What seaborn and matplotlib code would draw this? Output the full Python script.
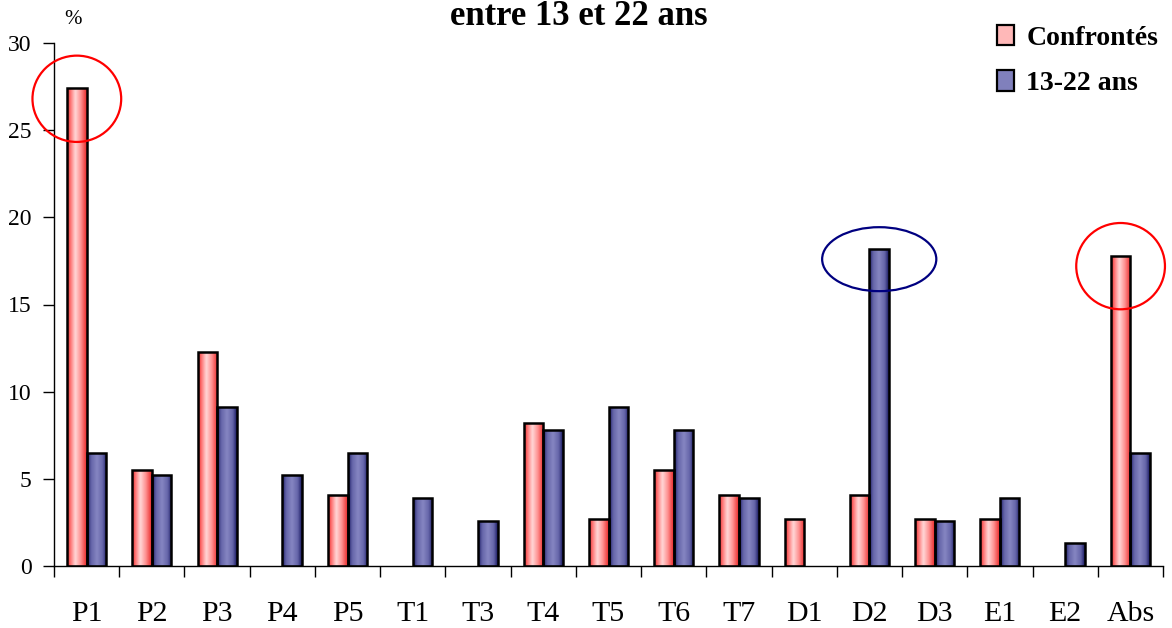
import numpy as np
import pandas as pd
import matplotlib
matplotlib.use("Agg")
import matplotlib.pyplot as plt
import seaborn as sns
from matplotlib.patches import Ellipse, Patch
from matplotlib.colors import LinearSegmentedColormap

# ---- data ----
categories = ["P1", "P2", "P3", "P4", "P5", "T1", "T3", "T4", "T5", "T6",
              "T7", "D1", "D2", "D3", "E1", "E2", "Abs"]
confrontes = [27.4, 5.5, 12.3, 0.0, 4.1, 0.0, 0.0, 8.2, 2.7, 5.5,
              4.1, 2.7, 4.1, 2.7, 2.7, 0.0, 17.8]
ans_13_22 = [6.5, 5.2, 9.1, 5.2, 6.5, 3.9, 2.6, 7.8, 9.1, 7.8,
             3.9, 0.0, 18.2, 2.6, 3.9, 1.3, 6.5]
series_names = ["Confrontés", "13-22 ans"]
title = "entre 13 et 22 ans"
yticks = [0, 5, 10, 15, 20, 25, 30]

df = pd.DataFrame({
    "cat": categories * 2,
    "val": confrontes + ans_13_22,
    "serie": [series_names[0]] * len(categories) + [series_names[1]] * len(categories),
})

sns.set_theme(style="white")
plt.rcParams["font.family"] = ["Liberation Serif", "DejaVu Serif"]
plt.rcParams["text.color"] = "black"
plt.rcParams["xtick.color"] = "black"
plt.rcParams["ytick.color"] = "black"
plt.rcParams["axes.labelcolor"] = "black"

fig = plt.figure(figsize=(11.72, 6.28), dpi=100)
ax = fig.add_axes([54 / 1172, 1 - 566 / 628, (1163 - 54) / 1172, (566 - 43) / 628])

pink_base = "#F8A0A0"
blue_base = "#7878B8"
sns.barplot(data=df, x="cat", y="val", hue="serie", hue_order=series_names,
            order=categories, palette=[pink_base, blue_base], width=0.6, gap=0,
            edgecolor="black", linewidth=1.8, ax=ax, legend=False, saturation=1)

pink_cmap = LinearSegmentedColormap.from_list(
    "pk", [(0, "#E82828"), (0.18, "#FF7878"), (0.42, "#FFD8D8"), (0.7, "#FF9090"), (1, "#E82828")])
blue_cmap = LinearSegmentedColormap.from_list(
    "bl", [(0, "#181860"), (0.2, "#6464A8"), (0.5, "#8686C2"), (0.8, "#6464A8"), (1, "#181860")])

grad = np.linspace(0, 1, 64).reshape(1, -1)
n = len(categories)
bars = list(ax.patches)
for k, bar in enumerate(bars):
    h = bar.get_height()
    if h <= 0:
        bar.set_visible(False)
        continue
    x0 = bar.get_x()
    w = bar.get_width()
    cmap = pink_cmap if k < n else blue_cmap
    im = ax.imshow(grad, cmap=cmap, aspect="auto", interpolation="bicubic",
                   extent=[x0, x0 + w, 0, h], zorder=bar.get_zorder() - 0.1)
    im.set_clip_path(bar)
    bar.set_facecolor("none")

ax.set_xlim(-0.5, n - 0.5)
ax.set_ylim(0, 30)
ax.set_yticks(yticks)
ax.set_xlabel("")
ax.set_ylabel("")

for s in ["top", "right"]:
    ax.spines[s].set_visible(False)
for s in ["left", "bottom"]:
    ax.spines[s].set_color("black")
    ax.spines[s].set_linewidth(1.0)

ax.set_xticks(range(n))
ax.set_xticklabels(categories)
ax.set_xticks(np.arange(-0.5, n, 1), minor=True)
ax.tick_params(axis="x", which="major", length=0, pad=25, labelsize=21.5, colors="black")
ax.tick_params(axis="x", which="minor", length=8, width=1, direction="out", bottom=True, color="black")
ax.tick_params(axis="y", which="major", length=8, width=1, direction="out", left=True,
               pad=8, labelsize=17, colors="black")

# annotations (ellipses around highlighted bars)
def circle(i, offset, value, w, hgt, color):
    ax.add_patch(Ellipse((i + offset, value - 0.6), w, hgt, fill=False,
                         edgecolor=color, linewidth=1.6, zorder=5, clip_on=False))

i_p1 = categories.index("P1")
i_d2 = categories.index("D2")
i_abs = categories.index("Abs")
circle(i_p1, -0.15, confrontes[i_p1], 1.36, 4.95, "#FF0000")
circle(i_abs, -0.15, confrontes[i_abs], 1.36, 4.95, "#FF0000")
circle(i_d2, 0.15, ans_13_22[i_d2], 1.75, 3.67, "#000080")

fig.text(73 / 1172, 1 - 19 / 628, "%", ha="center", va="center", fontsize=15)
fig.text(579 / 1172, 1 - 25 / 628, title, ha="center", va="baseline",
         fontsize=25, fontweight="bold")

handles = [Patch(facecolor="#FFB8B8", edgecolor="black", linewidth=1.6),
           Patch(facecolor="#8080BC", edgecolor="black", linewidth=1.6)]
fig.legend(handles, series_names, loc="upper left",
           bbox_to_anchor=(986 / 1172, 1 - 14 / 628), frameon=False,
           prop={"weight": "bold", "size": 20}, handlelength=0.6, handleheight=0.75,
           handletextpad=0.45, labelspacing=0.7, borderaxespad=0)

fig.savefig("out.png", dpi=100)
